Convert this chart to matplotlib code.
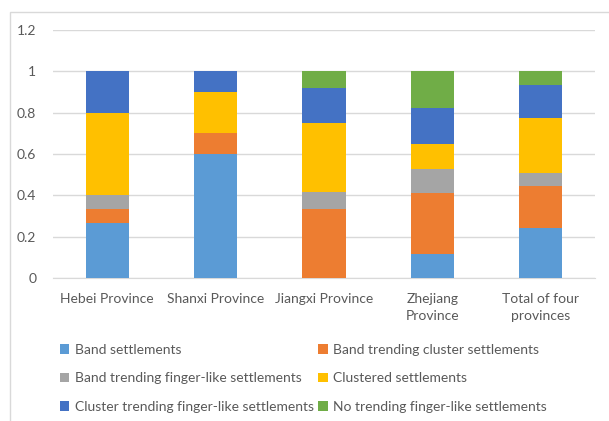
import matplotlib
matplotlib.use("Agg")
import matplotlib.pyplot as plt
from matplotlib.patches import Rectangle, Patch
import numpy as np

plt.rcParams['font.family'] = ['Lato', 'DejaVu Sans']

categories = ["Hebei Province", "Shanxi Province", "Jiangxi Province",
              "Zhejiang\nProvince", "Total of four\nprovinces"]
series_names = ["Band settlements", "Band trending cluster settlements",
                "Band trending finger-like settlements", "Clustered settlements",
                "Cluster trending finger-like settlements", "No trending finger-like settlements"]
band = [0.267, 0.6, 0.0, 0.118, 0.244]
band_cluster = [0.067, 0.1, 0.333, 0.294, 0.199]
band_finger = [0.066, 0.0, 0.084, 0.117, 0.064]
clustered = [0.4, 0.2, 0.333, 0.118, 0.267]
cluster_finger = [0.2, 0.1, 0.167, 0.177, 0.161]
no_trend = [0.0, 0.0, 0.083, 0.176, 0.065]
yticks = [0, 0.2, 0.4, 0.6, 0.8, 1, 1.2]
ytick_labels = ["0", "0.2", "0.4", "0.6", "0.8", "1", "1.2"]

colors = ["#5B9BD5", "#ED7D31", "#A5A5A5", "#FFC000", "#4472C4", "#70AD47"]
series = [band, band_cluster, band_finger, clustered, cluster_finger, no_trend]

fig = plt.figure(figsize=(6.09, 4.21), dpi=100)
fig.patches.append(Rectangle((10/609, -0.1), 1.2, 1 - 12/421 + 0.1, transform=fig.transFigure,
                             fill=False, edgecolor="#D9D9D9", linewidth=1.0, zorder=0))
ax = fig.add_axes([53/609, 1 - 278/421, 542/609, 248/421])

x = np.arange(len(categories))
bottom = np.zeros(len(categories))
for vals, c, name in zip(series, colors, series_names):
    ax.bar(x, vals, 0.4, bottom=bottom, color=c, label=name, zorder=3)
    bottom += np.array(vals)

ax.set_xlim(-0.5, 4.5)
ax.set_ylim(0, 1.2)
ax.set_yticks(yticks)
ax.set_yticklabels(ytick_labels)
ax.set_xticks(x)
ax.set_xticklabels(categories, multialignment="center", linespacing=1.45)
ax.yaxis.grid(True, color="#D9D9D9", linewidth=1.0, zorder=0)
ax.set_axisbelow(True)
for s in ["top", "right", "left"]:
    ax.spines[s].set_visible(False)
ax.spines["bottom"].set_color("#D9D9D9")
ax.tick_params(axis="both", length=0, labelsize=10, labelcolor="#595959")
ax.tick_params(axis="y", pad=12)
ax.tick_params(axis="x", pad=11)

order = [0, 2, 4, 1, 3, 5]
handles = [Patch(facecolor=colors[i], edgecolor="none") for i in order]
labels = [series_names[i] for i in order]
fig.legend(handles, labels, ncol=2, loc="upper left",
           bbox_to_anchor=(54/609, 1 - 338/421), frameon=False,
           fontsize=10, labelcolor="#595959", handlelength=0.7, handleheight=0.7,
           handletextpad=0.4, columnspacing=0.3, labelspacing=1.2, borderaxespad=0)

fig.savefig("out.png", dpi=100)
